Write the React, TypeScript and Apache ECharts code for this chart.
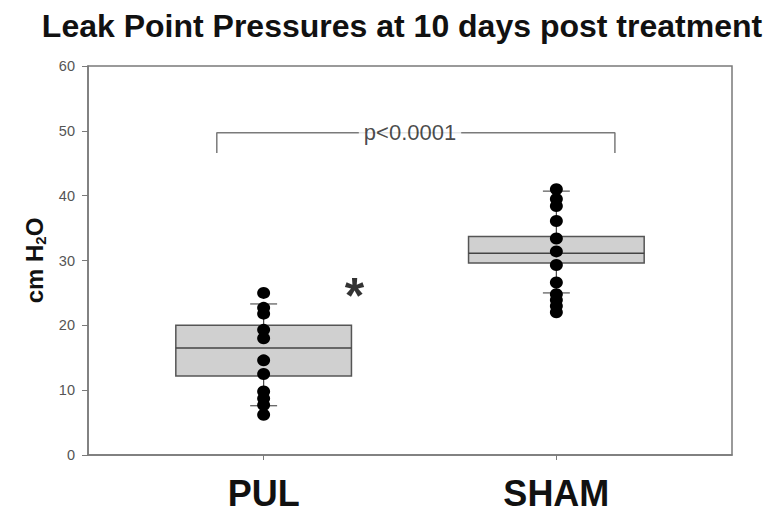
import React, { useEffect, useRef } from "react";
import * as echarts from "echarts";

const categories = ["PUL", "SHAM"];
const categoryX = [1, 2];
// box stats: [lowerWhisker, q1, median, q3, upperWhisker]
const pulBox = [7.6, 12.2, 16.5, 20.0, 23.3];
const shamBox = [25.0, 29.6, 31.1, 33.7, 40.7];
const pulPoints = [25.0, 22.7, 21.8, 19.3, 18.0, 14.6, 12.5, 9.8, 8.7, 7.7, 6.2];
const shamPoints = [41.0, 39.5, 38.4, 36.1, 33.4, 31.4, 29.3, 26.6, 24.8, 23.9, 23.0, 22.0];
const bracketX = [0.84, 2.2];
const bracketY = [46.6, 49.7];
const pValueText = "p<0.0001";
const asteriskPos = [1.31, 25.6];
const yTicks = { min: 0, max: 60, interval: 10 };

const FONT = "Liberation Sans, Arial, Helvetica, sans-serif";

export default function App() {
  const ref = useRef<HTMLDivElement>(null);
  useEffect(() => {
    if (!ref.current) return;
    const chart = echarts.init(ref.current, null, { renderer: "svg" });
    const boxes = [pulBox, shamBox].map((b, i) => [categoryX[i], ...b]);
    const points: number[][] = [];
    pulPoints.forEach((v) => points.push([categoryX[0], v]));
    shamPoints.forEach((v) => points.push([categoryX[1], v]));
    const bracket = [
      [bracketX[0], bracketY[0]],
      [bracketX[0], bracketY[1]],
      [bracketX[1], bracketY[1]],
      [bracketX[1], bracketY[0]],
    ];
    const boxHalf = 0.3;
    const capHalf = 0.046;
    const option: any = {
      animation: false,
      backgroundColor: "#fff",
      title: {
        text: "Leak Point Pressures at 10 days post treatment",
        left: 397,
        textAlign: "center",
        top: 5,
        textStyle: { fontFamily: FONT, fontSize: 32, fontWeight: "bold", color: "#111" },
      },
      grid: {
        left: 88,
        right: 39,
        top: 66,
        bottom: 58,
        show: true,
        borderColor: "#7a7a7a",
        borderWidth: 1.5,
        backgroundColor: "transparent",
      },
      xAxis: {
        type: "value",
        min: 0.4,
        max: 2.6,
        splitLine: { show: false },
        axisLine: { show: true, onZero: false, lineStyle: { color: "#7a7a7a", width: 1.5 } },
        axisTick: {
          show: true,
          customValues: categoryX,
          length: 5,
          lineStyle: { color: "#7a7a7a" },
        },
        axisLabel: {
          show: true,
          customValues: categoryX,
          formatter: (v: number) => categories[categoryX.indexOf(v)] ?? "",
          fontFamily: FONT,
          fontSize: 36,
          fontWeight: "bold",
          color: "#111",
          margin: 20,
        },
      },
      yAxis: {
        type: "value",
        min: yTicks.min,
        max: yTicks.max,
        interval: yTicks.interval,
        splitLine: { show: false },
        axisLine: { show: true, lineStyle: { color: "#7a7a7a", width: 1.5 } },
        axisTick: { show: true, length: 6, lineStyle: { color: "#7a7a7a" } },
        axisLabel: { fontFamily: FONT, fontSize: 14.5, color: "#555", margin: 13 },
        name: "{a|cm H}{s|2}{a|O}",
        nameLocation: "middle",
        nameRotate: 90,
        nameGap: 38,
        nameTextStyle: {
          rich: {
            a: { fontFamily: FONT, fontSize: 24, fontWeight: "bold", color: "#111" },
            s: { fontFamily: FONT, fontSize: 15, fontWeight: "bold", color: "#111", verticalAlign: "bottom", padding: [11, 0, 0, 0] },
          },
        },
      },
      series: [
        {
          type: "custom",
          data: boxes,
          z: 2,
          renderItem: (params: any, api: any) => {
            const x = api.value(0);
            const low = api.value(1);
            const q1 = api.value(2);
            const med = api.value(3);
            const q3 = api.value(4);
            const high = api.value(5);
            const tl = api.coord([x - boxHalf, q3]);
            const br = api.coord([x + boxHalf, q1]);
            const mL = api.coord([x - boxHalf, med]);
            const mR = api.coord([x + boxHalf, med]);
            const cHigh = api.coord([x, high]);
            const cLow = api.coord([x, low]);
            const cQ3 = api.coord([x, q3]);
            const cQ1 = api.coord([x, q1]);
            const capL = api.coord([x - capHalf, high])[0];
            const capR = api.coord([x + capHalf, high])[0];
            const lineStyle = { stroke: "#444", lineWidth: 1.2 };
            return {
              type: "group",
              children: [
                { type: "line", shape: { x1: cHigh[0], y1: cHigh[1], x2: cQ3[0], y2: cQ3[1] }, style: lineStyle },
                { type: "line", shape: { x1: cLow[0], y1: cLow[1], x2: cQ1[0], y2: cQ1[1] }, style: lineStyle },
                { type: "line", shape: { x1: capL, y1: cHigh[1], x2: capR, y2: cHigh[1] }, style: { stroke: "#555", lineWidth: 1.2 } },
                { type: "line", shape: { x1: capL, y1: cLow[1], x2: capR, y2: cLow[1] }, style: { stroke: "#555", lineWidth: 1.2 } },
                {
                  type: "rect",
                  shape: { x: tl[0], y: tl[1], width: br[0] - tl[0], height: br[1] - tl[1] },
                  style: { fill: "#d0d0d0", stroke: "#555", lineWidth: 1.5 },
                },
                { type: "line", shape: { x1: mL[0], y1: mL[1], x2: mR[0], y2: mR[1] }, style: { stroke: "#444", lineWidth: 1.5 } },
              ],
            };
          },
        },
        {
          type: "scatter",
          data: points,
          symbol: "circle",
          symbolSize: [13, 12],
          itemStyle: { color: "#000", opacity: 1 },
          z: 5,
        },
        {
          type: "line",
          data: bracket,
          symbol: "none",
          lineStyle: { color: "#7a7a7a", width: 1.5 },
          z: 3,
        },
        {
          type: "scatter",
          data: [[(bracketX[0] + bracketX[1]) / 2 - 0.02, bracketY[1]]],
          symbol: "rect",
          symbolSize: 1,
          itemStyle: { color: "rgba(0,0,0,0)" },
          z: 4,
          label: {
            show: true,
            position: "inside",
            formatter: pValueText,
            fontFamily: FONT,
            fontSize: 22,
            color: "#1a1a1a",
            backgroundColor: "#fff",
            padding: [2, 5],
          },
        },
        {
          type: "scatter",
          data: [asteriskPos],
          symbol: "rect",
          symbolSize: 1,
          itemStyle: { color: "rgba(0,0,0,0)" },
          z: 4,
          label: {
            show: true,
            position: "inside",
            formatter: "*",
            fontFamily: FONT,
            fontSize: 50,
            fontWeight: "bold",
            color: "#000",
            offset: [0, 7],
          },
        },
      ],
    };
    chart.setOption(option);
    return () => chart.dispose();
  }, []);
  return <div ref={ref} style={{ position: "fixed", left: 0, top: 0, width: 771, height: 513 }} />;
}
